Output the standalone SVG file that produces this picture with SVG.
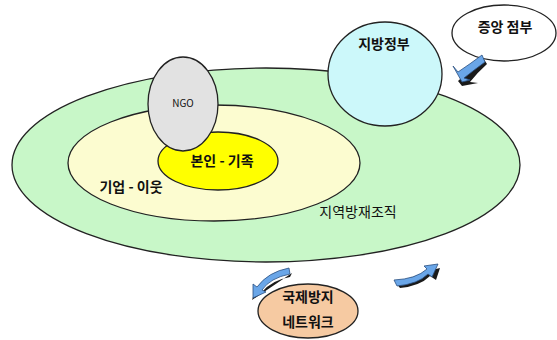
<svg xmlns="http://www.w3.org/2000/svg" width="557" height="340" viewBox="0 0 557 340">
<style>
.o{stroke:#222;stroke-width:1.3}
.t{font-family:"Noto Sans CJK KR","Liberation Sans",sans-serif;fill:#111;text-anchor:middle}
.b{font-weight:bold;font-size:14px}
.arr{fill:#6aa6e8;stroke:#2a4f80;stroke-width:0.8}
.sh{fill:#1a1a1a}
</style>
<rect width="557" height="340" fill="#fff"/>
<g id="region">
<ellipse class="o" cx="266" cy="165" rx="254" ry="97" fill="#c8f7c8"/>
<text class="t" x="358" y="217" font-size="14">지역방재조직</text>
</g>
<g id="business">
<ellipse class="o" cx="214" cy="163" rx="146" ry="58" fill="#fcfcd0"/>
<text class="t b" x="131" y="192">기업 - 이웃</text>
</g>
<g id="family">
<ellipse class="o" cx="218" cy="161" rx="60" ry="29" fill="#ffff00"/>
<text class="t b" x="222" y="166">본인 - 기족</text>
</g>
<g id="ngo">
<ellipse class="o" cx="183" cy="104" rx="35" ry="47" fill="#e2e2e2"/>
<text class="t" x="183" y="107" font-size="10">NGO</text>
</g>
<g id="local">
<ellipse class="o" cx="385" cy="74" rx="57" ry="52" fill="#ccf8fa"/>
<text class="t b" x="384" y="49">지방정부</text>
</g>
<g id="central">
<ellipse class="o" cx="504" cy="33" rx="52" ry="28" fill="#fff"/>
<text class="t b" x="505" y="32">증앙 점부</text>
</g>
<g id="intl">
<ellipse class="o" cx="308" cy="311" rx="50" ry="27" fill="#f6caa2"/>
<text class="t b" x="308" y="302">국제방지</text>
<text class="t b" x="308" y="327">네트워크</text>
</g>
<g id="connectors">
<path class="sh" d="M483 58 L487 64 Q478 72 470 82 L478 83 L462 86 L458 81 Z"/>
<path class="arr" d="M482 55 L485 62 Q474 70 464 78 L470 80 L462 82 L453 66 L458 72 Q470 64 482 55 Z"/>
<path class="sh" d="M292 273 L290 277 Q272 280 262 292 L256 288 L252 300 L258 296 Z"/>
<path class="arr" d="M289 268 L290 274 Q270 278 262 290 L266 292 L253 298 L253 284 L257 287 Q268 272 289 268 Z"/>
<path class="sh" d="M396 283 L400 288 Q420 286 430 276 L436 280 L440 268 L432 270 Z"/>
<path class="arr" d="M394 280 L397 286 Q418 284 428 274 L432 277 L438 264 L424 266 L427 269 Q416 279 394 280 Z"/>
</g>
</svg>
